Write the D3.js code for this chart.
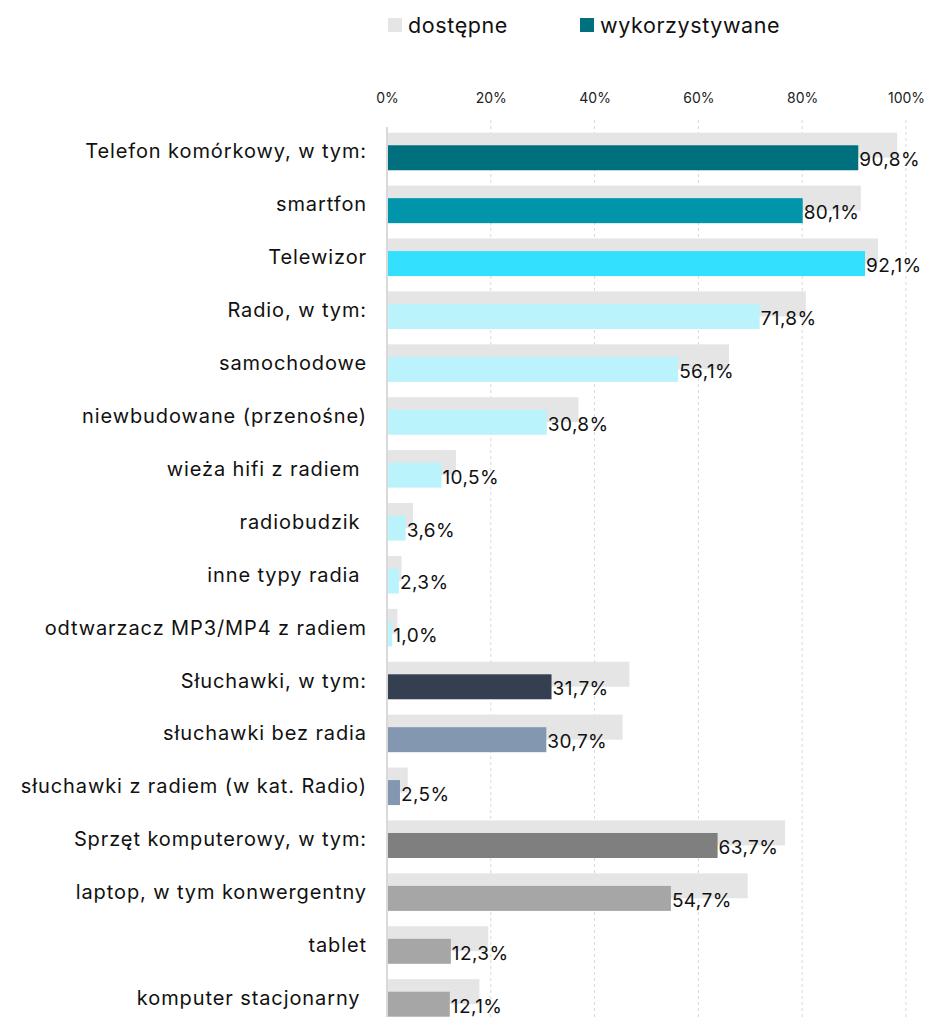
<!DOCTYPE html>
<html>
<head>
<meta charset="utf-8">
<script src="https://cdn.jsdelivr.net/npm/d3@7"></script>
<style>
  body { margin: 0; background: #fff; }
  svg { font-family: Inter, "Open Sans", sans-serif; }
  .cat { white-space: pre; }
</style>
</head>
<body>
<div id="chart"></div>
<script>
const categories = [
  'Telefon komórkowy, w tym:', 'smartfon', 'Telewizor', 'Radio, w tym:',
  'samochodowe', 'niewbudowane (przenośne)', 'wieża hifi z radiem ',
  'radiobudzik ', 'inne typy radia ', 'odtwarzacz MP3/MP4 z radiem',
  'Słuchawki, w tym:', 'słuchawki bez radia', 'słuchawki z radiem (w kat. Radio)',
  'Sprzęt komputerowy, w tym:', 'laptop, w tym konwergentny', 'tablet',
  'komputer stacjonarny '
];
const available = [98.3, 91.3, 94.6, 80.7, 65.9, 36.9, 13.3, 5.0, 2.8, 2.0,
  46.7, 45.4, 4.0, 76.7, 69.5, 19.5, 17.8];
const used = [90.8, 80.1, 92.1, 71.8, 56.1, 30.8, 10.5, 3.6, 2.3, 1.0,
  31.7, 30.7, 2.5, 63.7, 54.7, 12.3, 12.1];
const usedColors = ['#00707f', '#0095ab', '#33e1ff', '#bbf3fd', '#bbf3fd', '#bbf3fd',
  '#bbf3fd', '#bbf3fd', '#bbf3fd', '#bbf3fd', '#343f52', '#8497b0', '#8497b0',
  '#7f7f7f', '#a6a6a6', '#a6a6a6', '#a6a6a6'];
const xTicks = [0, 20, 40, 60, 80, 100];
const seriesNames = ['dostępne', 'wykorzystywane'];

const width = 925, height = 1017;
const greyColor = '#e5e5e5';
const barH = 25;

const svg = d3.select('#chart').append('svg')
    .attr('width', width)
    .attr('height', height);

const x = d3.scaleLinear().domain([0, 100]).range([387, 906]);
const y = d3.scaleBand()
    .domain(categories)
    .range([132.7, 1016.7])
    .paddingInner(0.29)
    .paddingOuter(0);

const pl = d3.formatLocale({decimal: ',', thousands: ' ', grouping: [3], currency: ['', '']});
const fmt = pl.format('.1f');

// Grid lines
svg.append('g')
  .selectAll('line')
  .data(xTicks.slice(1))
  .join('line')
    .attr('x1', d => x(d)).attr('x2', d => x(d))
    .attr('y1', 120).attr('y2', height)
    .attr('stroke', '#d9d9d9')
    .attr('stroke-dasharray', '3,3');

// Top axis
const xAxis = d3.axisTop(x).tickValues(xTicks).tickSize(0).tickPadding(0).tickFormat(d => d + '%');
const gx = svg.append('g')
    .attr('transform', 'translate(0,103)')
    .call(xAxis);
gx.select('.domain').remove();
gx.selectAll('text')
    .attr('font-size', 14)
    .attr('fill', '#222')
    .attr('font-family', 'Inter, sans-serif');

// Available (grey) bars
svg.append('g')
  .selectAll('rect')
  .data(categories)
  .join('rect')
    .attr('x', x(0))
    .attr('y', d => y(d))
    .attr('width', (d, i) => x(available[i]) - x(0))
    .attr('height', barH)
    .attr('fill', greyColor);

// Used bars
svg.append('g')
  .selectAll('rect')
  .data(categories)
  .join('rect')
    .attr('x', x(0))
    .attr('y', d => y(d) + y.bandwidth() - barH)
    .attr('width', (d, i) => x(used[i]) - x(0))
    .attr('height', barH)
    .attr('fill', (d, i) => usedColors[i]);

// Value labels
svg.append('g')
  .selectAll('text')
  .data(categories)
  .join('text')
    .attr('x', (d, i) => x(used[i]) + 1)
    .attr('y', d => y(d) + y.bandwidth() - barH / 2 + 2)
    .attr('dominant-baseline', 'central')
    .attr('font-size', 19)
    .attr('letter-spacing', 0.4)
    .attr('fill', '#111')
    .text((d, i) => fmt(used[i]) + '%');

// Category labels
svg.append('g')
  .selectAll('text')
  .data(categories)
  .join('text')
    .attr('class', 'cat')
    .attr('x', 367)
    .attr('y', d => y(d) + y.bandwidth() / 2)
    .attr('text-anchor', 'end')
    .attr('dominant-baseline', 'central')
    .attr('font-size', 20)
    .attr('letter-spacing', 0.9)
    .attr('fill', '#111')
    .text(d => d);

// Left axis line
svg.append('line')
    .attr('x1', x(0)).attr('x2', x(0))
    .attr('y1', 127).attr('y2', height)
    .attr('stroke', '#d9d9d9')
    .attr('stroke-width', 2);

// Legend
const legend = svg.append('g');
const legendX = [388, 580];
const legendColors = [greyColor, '#00707f'];
seriesNames.forEach((name, i) => {
  legend.append('rect')
      .attr('x', legendX[i]).attr('y', 18)
      .attr('width', 14).attr('height', 14)
      .attr('fill', legendColors[i]);
  legend.append('text')
      .attr('x', legendX[i] + 20).attr('y', 25)
      .attr('dominant-baseline', 'central')
      .attr('font-size', 21.5)
      .attr('letter-spacing', 0.6)
      .attr('fill', '#111')
      .text(name);
});
</script>
</body>
</html>
